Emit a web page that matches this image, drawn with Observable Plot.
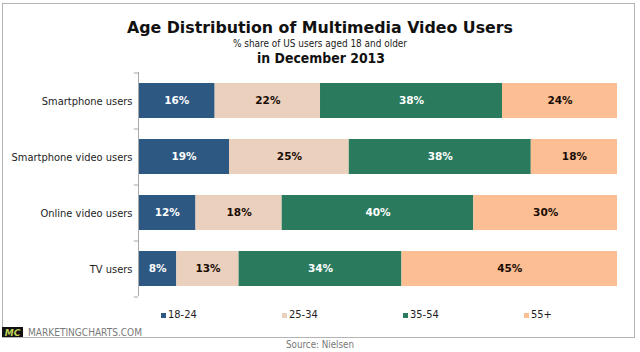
<!DOCTYPE html>
<html>
<head>
<meta charset="utf-8">
<script src="https://cdn.jsdelivr.net/npm/d3@7"></script>
<script src="https://cdn.jsdelivr.net/npm/@observablehq/plot@0.6"></script>
<style>
html,body{margin:0;padding:0;background:#fff;}
#wrap{position:relative;width:640px;height:352px;overflow:hidden;background:#fff;
  font-family:"DejaVu Sans Condensed","DejaVu Sans",sans-serif;}
#frame{position:absolute;left:2px;top:3px;width:633px;height:335px;box-sizing:border-box;border:1px solid #b4b4b4;}
#header{position:absolute;left:0;top:0;}
#chart{position:absolute;left:0;top:72px;}
#footer{position:absolute;left:0;top:296px;}
</style>
</head>
<body>
<div id="wrap">
  <div id="frame"></div>
  <svg id="header" width="640" height="72">
    <text x="320" y="33" text-anchor="middle" font-family="DejaVu Sans Condensed, DejaVu Sans, sans-serif" font-weight="bold" font-size="16" fill="#111" textLength="386" lengthAdjust="spacingAndGlyphs">Age Distribution of Multimedia Video Users</text>
    <text x="320" y="47" text-anchor="middle" font-family="DejaVu Sans Condensed, DejaVu Sans, sans-serif" font-size="10" fill="#222" textLength="174" lengthAdjust="spacingAndGlyphs">% share of US users aged 18 and older</text>
    <text x="321" y="63" text-anchor="middle" font-family="DejaVu Sans Condensed, DejaVu Sans, sans-serif" font-weight="bold" font-size="13.5" fill="#111" textLength="128" lengthAdjust="spacingAndGlyphs">in December 2013</text>
  </svg>
  <div id="chart"></div>
  <svg id="footer" width="640" height="56"></svg>
</div>
<script>
const categories = ["Smartphone users", "Smartphone video users", "Online video users", "TV users"];
const ages = ["18-24", "25-34", "35-54", "55+"];
const colors = ["#2c5882", "#ebd1bd", "#2a7a5e", "#fbbf93"];
const labelColors = ["#ffffff", "#1a0c05", "#ffffff", "#1a0c05"];
const share18to24 = [16, 19, 12, 8];
const share25to34 = [22, 25, 18, 13];
const share35to54 = [38, 38, 40, 34];
const share55plus = [24, 18, 30, 45];
const series = [share18to24, share25to34, share35to54, share55plus];

const data = categories.flatMap((c, i) => ages.map((a, j) => ({category: c, age: a, value: series[j][i]})));
const font = '"DejaVu Sans Condensed","DejaVu Sans",sans-serif';
const step = 224 / categories.length;

const chart = Plot.plot({
  width: 640,
  height: 224,
  marginLeft: 138,
  marginRight: 23,
  marginTop: 0,
  marginBottom: 0,
  x: {domain: [0, 100], axis: null},
  y: {domain: categories, paddingInner: 0.375, paddingOuter: 0.1875, axis: null},
  color: {domain: ages, range: colors},
  style: {fontFamily: font, fontSize: "11px", background: "transparent", overflow: "visible", color: "#222"},
  marks: [
    Plot.barX(data, Plot.stackX({x: "value", y: "category", fill: "age", order: ages})),
    Plot.text(data, Plot.stackX({
      x: "value", y: "category", z: "age", order: ages,
      text: d => d.value + "%",
      fill: d => labelColors[ages.indexOf(d.age)],
      fontWeight: "bold", fontSize: 10.5, fontFamily: "DejaVu Sans, sans-serif"
    })),
    Plot.ruleX([0], {stroke: "#a8a8a8"}),
    Plot.ruleY(categories, {y: d => d, x1: -0.9, x2: 0, dy: -step / 2, stroke: "#a8a8a8"}),
    Plot.ruleY(categories.slice(-1), {y: d => d, x1: -0.9, x2: 0, dy: step / 2, stroke: "#a8a8a8"}),
    Plot.axisY({tickSize: 0, tickPadding: 6, fontSize: 11, fill: "#1e1e1e", label: null})
  ]
});
document.getElementById("chart").appendChild(chart);

// footer: legend, logo, source
const footer = d3.select("#footer");
const legendStart = 161, legendGap = 121;
const legend = footer.selectAll("g.item").data(ages).join("g")
  .attr("class", "item")
  .attr("transform", (d, i) => `translate(${legendStart + i * legendGap},0)`);
legend.append("rect").attr("x", 0).attr("y", 17).attr("width", 5).attr("height", 5)
  .attr("fill", (d, i) => colors[i]);
legend.append("text").attr("x", 7).attr("y", 22).text(d => d)
  .attr("font-family", font).attr("font-size", 11).attr("fill", "#1e1e1e");

footer.append("rect").attr("x", 2).attr("y", 31).attr("width", 21).attr("height", 10).attr("fill", "#111");
footer.append("text").attr("x", 12.5).attr("y", 39.5).attr("text-anchor", "middle")
  .attr("font-family", "DejaVu Sans, sans-serif").attr("font-weight", "bold").attr("font-style", "italic")
  .attr("font-size", 9).attr("fill", "#c2d35a").text("MC");
footer.append("text").attr("x", 28).attr("y", 40)
  .attr("font-family", font).attr("font-size", 10).attr("fill", "#7a7a7a")
  .attr("textLength", 114).attr("lengthAdjust", "spacingAndGlyphs").text("MARKETINGCHARTS.COM");
footer.append("text").attr("x", 320).attr("y", 52).attr("text-anchor", "middle")
  .attr("font-family", font).attr("font-size", 10).attr("fill", "#777")
  .attr("textLength", 68).attr("lengthAdjust", "spacingAndGlyphs").text("Source: Nielsen");
</script>
</body>
</html>
